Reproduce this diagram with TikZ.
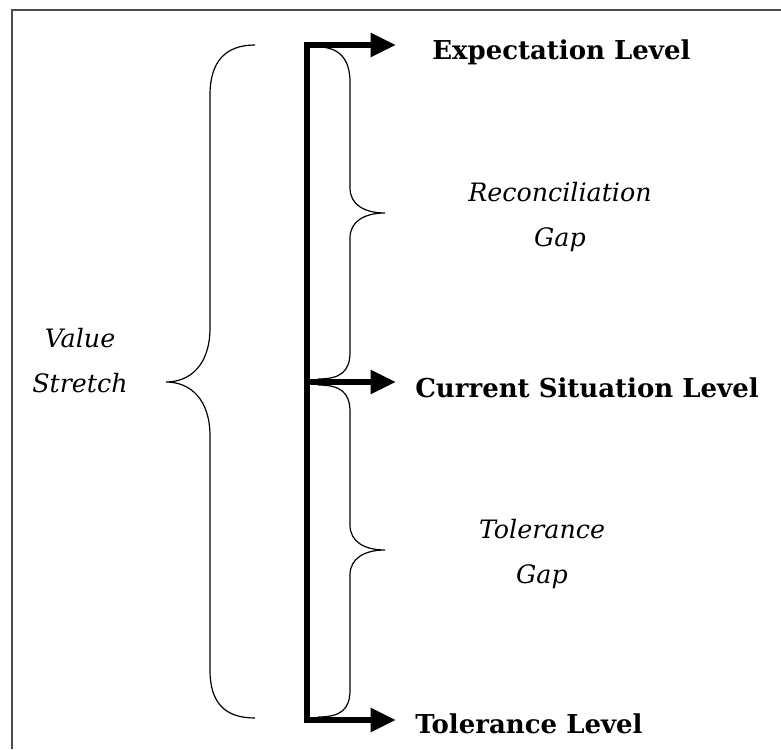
\documentclass[tikz,border=0pt]{standalone}
\usepackage{fontspec}
\setmainfont{DejaVu Serif}
\usetikzlibrary{arrows.meta}
\tikzset{
  lvl/.style={font=\fontsize{19.5}{22}\selectfont\bfseries, anchor=west, inner sep=0pt},
  gaplbl/.style={font=\fontsize{19}{33.75}\selectfont\itshape, align=center, inner sep=0pt},
  spine/.style={line width=5.2pt, line join=miter, line cap=butt},
  levelarrow/.style={-{Triangle[length=19pt,width=17pt]}},
  brace/.style={line width=0.9pt},
  frameline/.style={line width=1.5pt, draw=black!70}
}
\begin{document}
\begin{tikzpicture}[x=0.75pt,y=-0.75pt]
\useasboundingbox (0,0) rectangle (781,749);
\draw[frameline] (12,749) -- (12,10) -- (781,10);
% coordinates
\coordinate (topc) at (307,45);
\coordinate (midc) at (307,382);
\coordinate (botc) at (307,720);
\coordinate (etip) at (396,45);
\coordinate (ctip) at (396,382);
\coordinate (ttip) at (396,720);
% spine and arrows
\draw[spine, {Triangle[length=19pt,width=17pt]}-{Triangle[length=19pt,width=17pt]}] (etip) -- (topc) -- (botc) -- (ttip);
\draw[spine, levelarrow] (midc) -- (ctip);
% braces
\draw[brace] (318,47) .. controls (340,47) and (350,60) .. (350,82) -- (350,188)
  .. controls (350,205) and (365,213) .. (385,213)
  .. controls (365,213) and (350,221) .. (350,238) -- (350,352)
  .. controls (350,372) and (340,379) .. (318,379);
\draw[brace] (318,385) .. controls (340,385) and (350,392) .. (350,412) -- (350,525)
  .. controls (350,542) and (365,550) .. (385,550)
  .. controls (365,550) and (350,558) .. (350,575) -- (350,690)
  .. controls (350,710) and (340,717) .. (318,717);
\draw[brace] (255,45) .. controls (225,45) and (210,62) .. (210,95) -- (210,328)
  .. controls (210,365) and (190,382) .. (166,382)
  .. controls (190,382) and (210,399) .. (210,436) -- (210,670)
  .. controls (210,703) and (225,718) .. (255,718);
% labels
\node[lvl] (exp) at (432,52) {Expectation Level};
\node[lvl] (cur) at (415,388) {Current Situation Level};
\node[lvl] (tol) at (415,724) {Tolerance Level};
\node[gaplbl] (rec) at (560,217) {Reconciliation\\Gap};
\node[gaplbl] (tg) at (542,554) {Tolerance\\Gap};
\node[gaplbl] (vs) at (80,361) {Value\\Stretch};
\end{tikzpicture}
\end{document}
